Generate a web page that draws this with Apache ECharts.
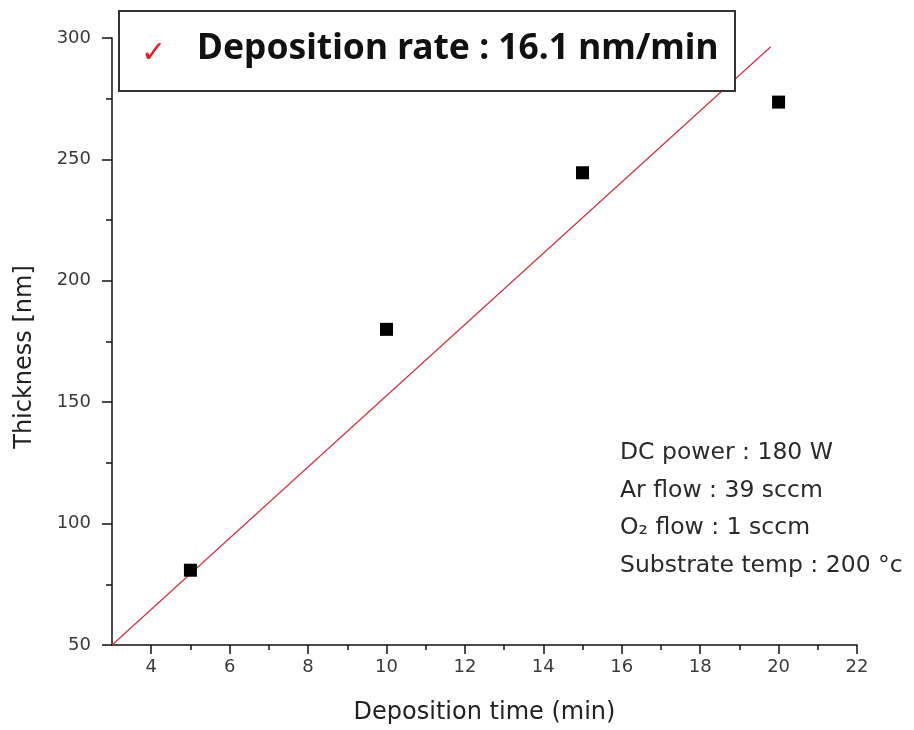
<!DOCTYPE html>
<html>
<head>
<meta charset="utf-8">
<script src="https://cdn.jsdelivr.net/npm/echarts@6/dist/echarts.min.js"></script>
<style>html,body{margin:0;padding:0;background:#fff;}#c{width:914px;height:730px;}</style>
</head>
<body>
<div id="c"></div>
<script>
// ---- data ----
var times = [5, 10, 15, 20];
var thickness = [80.8, 180, 244.5, 273.6];
var fitX = [3, 19.8];
var fitY = [50, 296.4];
var xMajorTicks = [4, 6, 8, 10, 12, 14, 16, 18, 20, 22];
var xMinorTicks = [5, 7, 9, 11, 13, 15, 17, 19, 21];
var titleText = 'Deposition rate : 16.1 nm/min';
var infoLines = ['DC power : 180 W', 'Ar flow : 39 sccm', 'O\u2082 flow : 1 sccm', 'Substrate temp : 200 \u00b0c'];
var xName = 'Deposition time (min)';
var yName = 'Thickness [nm]';

var chart = echarts.init(document.getElementById('c'), null, {renderer: 'canvas'});
var FONT = 'DejaVu Sans';
var grid = {left: 112, top: 38, width: 745, height: 607};

var scatterData = times.map(function (t, i) { return [t, thickness[i]]; });
var fitData = fitX.map(function (x, i) { return [x, fitY[i]]; });

var infoGraphics = infoLines.map(function (s, i) {
  return {
    type: 'text', left: 620, top: 441 + i * 37.5, z: 10,
    style: {text: s, font: '23.5px "DejaVu Sans"', fill: '#2a2a2a'}
  };
});

chart.setOption({
  animation: false,
  backgroundColor: '#fff',
  grid: grid,
  xAxis: [{
    type: 'value', min: 3, max: 22,
    axisLine: {show: true, onZero: false, lineStyle: {color: '#111', width: 1.5}},
    axisTick: {show: true, customValues: xMajorTicks, length: 9, lineStyle: {color: '#111', width: 1.5}},
    axisLabel: {customValues: xMajorTicks, margin: 13, color: '#3a3a3a', fontFamily: FONT, fontSize: 18},
    splitLine: {show: false},
    name: xName, nameLocation: 'middle', nameGap: 56,
    nameTextStyle: {fontFamily: FONT, fontSize: 24, color: '#222'}
  }, {
    type: 'value', min: 3, max: 22, position: 'bottom', offset: 0,
    axisLine: {show: false},
    axisTick: {show: true, customValues: xMinorTicks, length: 5, lineStyle: {color: '#111', width: 1.5}},
    axisLabel: {show: false},
    splitLine: {show: false}
  }],
  yAxis: {
    type: 'value', min: 50, max: 300, interval: 50,
    axisLine: {show: true, onZero: false, lineStyle: {color: '#111', width: 1.5}},
    axisTick: {show: true, length: 10, lineStyle: {color: '#111', width: 1.5}},
    minorTick: {show: true, splitNumber: 2, length: 6, lineStyle: {color: '#111', width: 1.5}},
    axisLabel: {margin: 21, color: '#3a3a3a', fontFamily: FONT, fontSize: 18},
    splitLine: {show: false}
  },
  series: [{
    type: 'line', data: fitData, xAxisIndex: 0, showSymbol: false, symbol: 'none',
    lineStyle: {color: '#d2303f', width: 1.2}, z: 2, silent: true
  }, {
    type: 'scatter', data: scatterData, xAxisIndex: 0, symbol: 'rect', symbolSize: 13,
    itemStyle: {color: '#000', opacity: 1}, z: 3
  }],
  graphic: [{
    type: 'rect', left: 118, top: 10, z: 5,
    shape: {width: 616, height: 80},
    style: {fill: '#fff', stroke: '#333', lineWidth: 2}
  }, {
    type: 'text', left: 141, top: 39, z: 6,
    style: {text: '\u2713', font: 'bold 30px "DejaVu Sans"', fill: '#e0202a'}
  }, {
    type: 'text', left: 197, top: 31, z: 6,
    style: {text: titleText, font: 'bold 35.4px "Noto Sans"', fill: '#111'}
  }, {
    type: 'text', z: 6, x: 25, y: 357, rotation: Math.PI / 2,
    style: {text: yName, font: '24px "DejaVu Sans"', fill: '#222', align: 'center', verticalAlign: 'middle'}
  }].concat(infoGraphics)
});
</script>
</body>
</html>
